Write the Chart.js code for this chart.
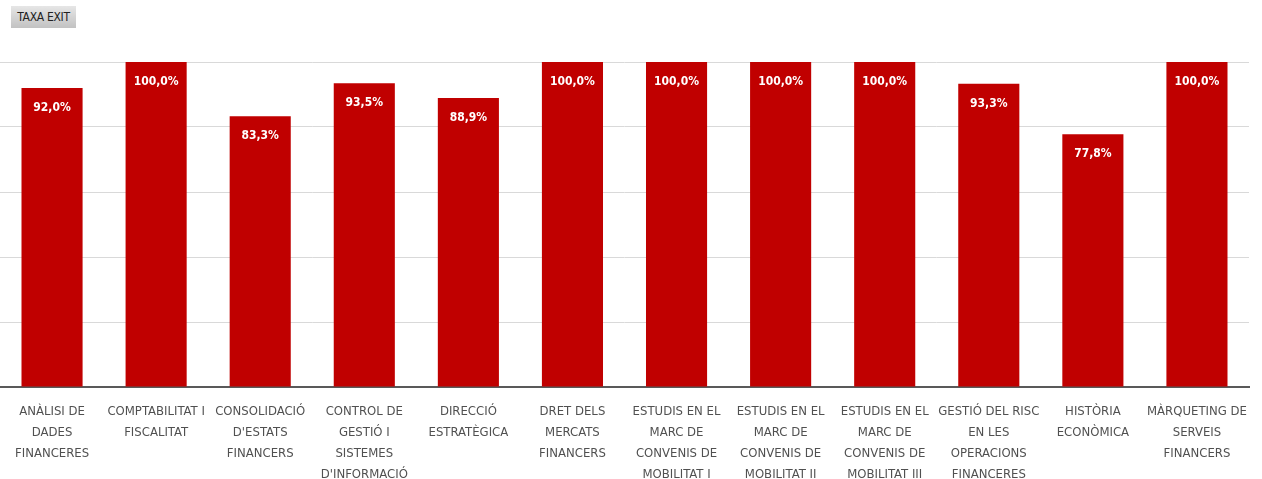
<!DOCTYPE html>
<html>
<head>
<meta charset="utf-8">
<script src="https://cdn.jsdelivr.net/npm/chart.js@4.4.1/dist/chart.umd.min.js"></script>
<style>
  html, body { margin: 0; padding: 0; background: #fff; }
  #wrap { position: relative; width: 1262px; height: 479px; }
  #chart { position: absolute; left: 0; top: 0; }
  .btn {
    position: absolute; left: 11px; top: 6px; width: 65px; height: 22px;
    background: linear-gradient(#e6e6e6, #c2c2c2);
    font-family: "DejaVu Sans Condensed", sans-serif;
    font-size: 12px; color: #222; line-height: 22px; text-align: center;
    letter-spacing: -0.3px;
  }
</style>
</head>
<body>
<div id="wrap">
  <canvas id="chart" width="1262" height="479"></canvas>
  <div class="btn">TAXA EXIT</div>
</div>
<script>
// Assignatures i taxa d'èxit (%)
const assignatures = [
    ['ANÀLISI DE', 'DADES', 'FINANCERES'],
    ['COMPTABILITAT I', 'FISCALITAT'],
    ['CONSOLIDACIÓ', "D'ESTATS", 'FINANCERS'],
    ['CONTROL DE', 'GESTIÓ I', 'SISTEMES', "D'INFORMACIÓ"],
    ['DIRECCIÓ', 'ESTRATÈGICA'],
    ['DRET DELS', 'MERCATS', 'FINANCERS'],
    ['ESTUDIS EN EL', 'MARC DE', 'CONVENIS DE', 'MOBILITAT I'],
    ['ESTUDIS EN EL', 'MARC DE', 'CONVENIS DE', 'MOBILITAT II'],
    ['ESTUDIS EN EL', 'MARC DE', 'CONVENIS DE', 'MOBILITAT III'],
    ['GESTIÓ DEL RISC', 'EN LES', 'OPERACIONS', 'FINANCERES'],
    ['HISTÒRIA', 'ECONÒMICA'],
    ['MÀRQUETING DE', 'SERVEIS', 'FINANCERS']
];
const taxaExit = [92.0, 100.0, 83.3, 93.5, 88.9, 100.0, 100.0, 100.0, 100.0, 93.3, 77.8, 100.0];
const yTicks = [0, 20, 40, 60, 80, 100];

const narrow = '"DejaVu Sans Condensed", sans-serif';

// etiquetes de valor dins de la barra, a dalt
const valueLabels = {
    id: 'valueLabels',
    afterDatasetsDraw(chart) {
        const ctx = chart.ctx;
        const meta = chart.getDatasetMeta(0);
        ctx.save();
        ctx.font = 'bold 12px ' + narrow;
        ctx.fillStyle = '#ffffff';
        ctx.textAlign = 'center';
        ctx.textBaseline = 'middle';
        meta.data.forEach((bar, i) => {
            const txt = taxaExit[i].toFixed(1).replace('.', ',') + '%';
            ctx.fillText(txt, bar.x, bar.y + 20);
        });
        ctx.restore();
    }
};

new Chart(document.getElementById('chart'), {
    type: 'bar',
    data: {
        labels: assignatures,
        datasets: [{
            data: taxaExit,
            backgroundColor: '#c00000',
            borderWidth: 0,
            categoryPercentage: 1,
            barPercentage: 0.587
        }]
    },
    options: {
        responsive: false,
        animation: false,
        layout: { padding: { left: 0, right: 13, top: 62, bottom: 0 } },
        plugins: {
            legend: { display: false },
            tooltip: { enabled: false }
        },
        scales: {
            x: {
                afterFit(axis) { axis.height = 92; },
                grid: { display: false },
                border: { display: true, color: '#595959', width: 2 },
                ticks: {
                    autoSkip: false,
                    maxRotation: 0,
                    minRotation: 0,
                    padding: 6,
                    color: '#505050',
                    font: { family: narrow, size: 13, lineHeight: '21px' }
                }
            },
            y: {
                min: 0,
                max: 100,
                afterBuildTicks(axis) { axis.ticks = yTicks.map(v => ({ value: v })); },
                afterFit(axis) { axis.width = 0; },
                grid: { color: '#d9d9d9', lineWidth: 1, drawTicks: false },
                border: { display: false },
                ticks: { display: false }
            }
        }
    },
    plugins: [valueLabels]
});
</script>
</body>
</html>
